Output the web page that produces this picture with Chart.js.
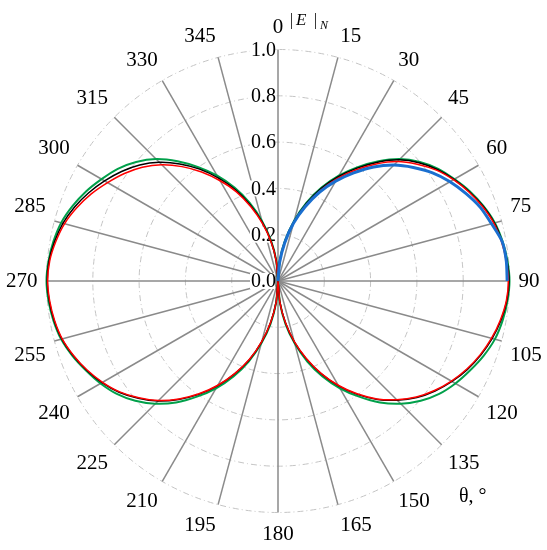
<!DOCTYPE html>
<html lang="en">
<head>
    <meta charset="UTF-8" />
    <title>|E|N polar pattern</title>
    <script src="https://cdn.jsdelivr.net/npm/chart.js"></script>
    <style>
        html, body { margin: 0; padding: 0; background: #fff; }
        #wrap { width: 547px; height: 550px; }
    </style>
</head>
<body>
    <div id="wrap"><canvas id="polarChart"></canvas></div>

    <script>
        // angle in degrees, 5 degree steps
        const angles = [0, 5, 10, 15, 20, 25, 30, 35, 40, 45, 50, 55, 60, 65, 70, 75, 80, 85,
            90, 95, 100, 105, 110, 115, 120, 125, 130, 135, 140, 145, 150, 155, 160, 165, 170, 175,
            180, 185, 190, 195, 200, 205, 210, 215, 220, 225, 230, 235, 240, 245, 250, 255, 260, 265,
            270, 275, 280, 285, 290, 295, 300, 305, 310, 315, 320, 325, 330, 335, 340, 345, 350, 355];
        const angleTicks = [0, 15, 30, 45, 60, 75, 90, 105, 120, 135, 150, 165,
            180, 195, 210, 225, 240, 255, 270, 285, 300, 315, 330, 345];
        const radialTicks = [0.0, 0.2, 0.4, 0.6, 0.8, 1.0];

        const greenVals = [0, .09, .18, .27, .36, .445, .525, .60, .675, .745, .80, .845, .88, .915, .945, .97, .985, .995,
            1.0, .995, .985, .97, .945, .915, .885, .85, .805, .75, .685, .61, .535, .455, .37, .28, .19, .095,
            0, .095, .19, .28, .37, .455, .535, .61, .685, .75, .805, .85, .885, .915, .945, .97, .985, .995,
            1.0, .995, .985, .97, .945, .915, .88, .845, .80, .745, .675, .60, .525, .445, .36, .27, .18, .09];
        const redVals = [0, .085, .17, .26, .345, .43, .51, .585, .66, .73, .785, .835, .875, .91, .94, .965, .98, .99,
            .995, .99, .975, .955, .93, .90, .865, .825, .78, .725, .665, .595, .52, .44, .355, .27, .18, .09,
            0, .09, .18, .27, .36, .44, .52, .595, .665, .73, .785, .835, .875, .91, .94, .965, .98, .99,
            .995, .99, .975, .955, .925, .89, .85, .81, .765, .71, .645, .575, .50, .425, .34, .255, .17, .085];
        const blackVals = [0, .088, .177, .265, .355, .44, .52, .595, .67, .74, .795, .84, .878, .912, .943, .968, .983, .993,
            .998, .992, .978, .958, .933, .903, .868, .828, .783, .728, .668, .598, .523, .443, .358, .272, .182, .091,
            0, .091, .182, .272, .362, .443, .523, .598, .668, .733, .788, .838, .878, .912, .942, .967, .982, .992,
            .997, .993, .98, .962, .935, .902, .865, .825, .78, .725, .66, .59, .513, .435, .35, .262, .175, .088];
        const blueVals = [0, .08, .168, .258, .34, .423, .498, .57, .643, .708, .763, .815, .858, .895, .93, .955, .983, .99,
            .99, null, null, null, null, null, null, null, null, null, null, null, null, null, null, null, null, null,
            null, null, null, null, null, null, null, null, null, null, null, null, null, null, null, null, null, null,
            null, null, null, null, null, null, null, null, null, null, null, null, null, null, null, null, null, null];

        const serif = "'Liberation Serif', 'DejaVu Serif', serif";

        // tick labels along the 0 deg line plus the axis captions
        const extraText = {
            id: 'extraText',
            beforeDatasetsDraw(chart) {
                const r = chart.scales.r;
                const ctx = chart.ctx;
                ctx.save();
                ctx.font = '20px ' + serif;
                ctx.textAlign = 'right';
                ctx.textBaseline = 'middle';
                radialTicks.forEach(v => {
                    const y = r.yCenter - r.getDistanceFromCenterForValue(v);
                    const txt = v.toFixed(1);
                    const w = ctx.measureText(txt).width;
                    ctx.fillStyle = '#fff';
                    ctx.fillRect(r.xCenter - 3 - w, y - 8, w, 16);
                    ctx.fillStyle = '#000';
                    ctx.fillText(txt, r.xCenter - 2, y + 1);
                });
                ctx.restore();
            },
            afterDraw(chart) {
                const ctx = chart.ctx;
                ctx.save();
                ctx.fillStyle = '#000';
                ctx.textBaseline = 'alphabetic';
                ctx.textAlign = 'left';
                ctx.font = '16px ' + serif;
                ctx.fillText('|', 290, 25);
                ctx.fillText('|', 314, 25);
                ctx.font = 'italic 17px ' + serif;
                ctx.fillText('E', 296, 25);
                ctx.font = 'italic 12px ' + serif;
                ctx.fillText('N', 320, 29);
                ctx.font = '20px ' + serif;
                ctx.fillText('θ, °', 459, 502);
                ctx.restore();
            }
        };

        const ctx = document.getElementById('polarChart').getContext('2d');
        new Chart(ctx, {
            type: 'radar',
            data: {
                labels: angles,
                datasets: [
                    { label: 'blue', data: blueVals, borderColor: '#1a6fcf', borderWidth: 3, order: 0 },
                    { label: 'red', data: redVals, borderColor: '#ff0000', borderWidth: 1.5, order: 1 },
                    { label: 'black', data: blackVals, borderColor: '#000000', borderWidth: 1.5, order: 2 },
                    { label: 'green', data: greenVals, borderColor: '#00a04a', borderWidth: 2, order: 3 }
                ]
            },
            options: {
                responsive: true,
                maintainAspectRatio: false,
                animation: false,
                layout: { padding: { top: 14, bottom: -2, left: 2, right: 0 } },
                elements: {
                    point: { radius: 0, hoverRadius: 0 },
                    line: { tension: 0.25, fill: false }
                },
                spanGaps: false,
                plugins: {
                    legend: { display: false },
                    tooltip: { enabled: false }
                },
                scales: {
                    r: {
                        min: 0,
                        max: 1,
                        ticks: { stepSize: 0.2, display: false },
                        grid: { circular: true, color: '#c4c4c4', lineWidth: 1 },
                        border: { dash: [6, 3, 1, 3] },
                        angleLines: {
                            display: true,
                            lineWidth: 1.5,
                            color: c => angleTicks.includes(angles[c.index]) ? '#8a8a8a' : 'rgba(0,0,0,0)'
                        },
                        pointLabels: {
                            padding: 9,
                            color: '#000',
                            font: { family: serif, size: 21 },
                            callback: (label) => angleTicks.includes(label) ? String(label) : ''
                        }
                    }
                }
            },
            plugins: [extraText]
        });
    </script>
</body>
</html>
